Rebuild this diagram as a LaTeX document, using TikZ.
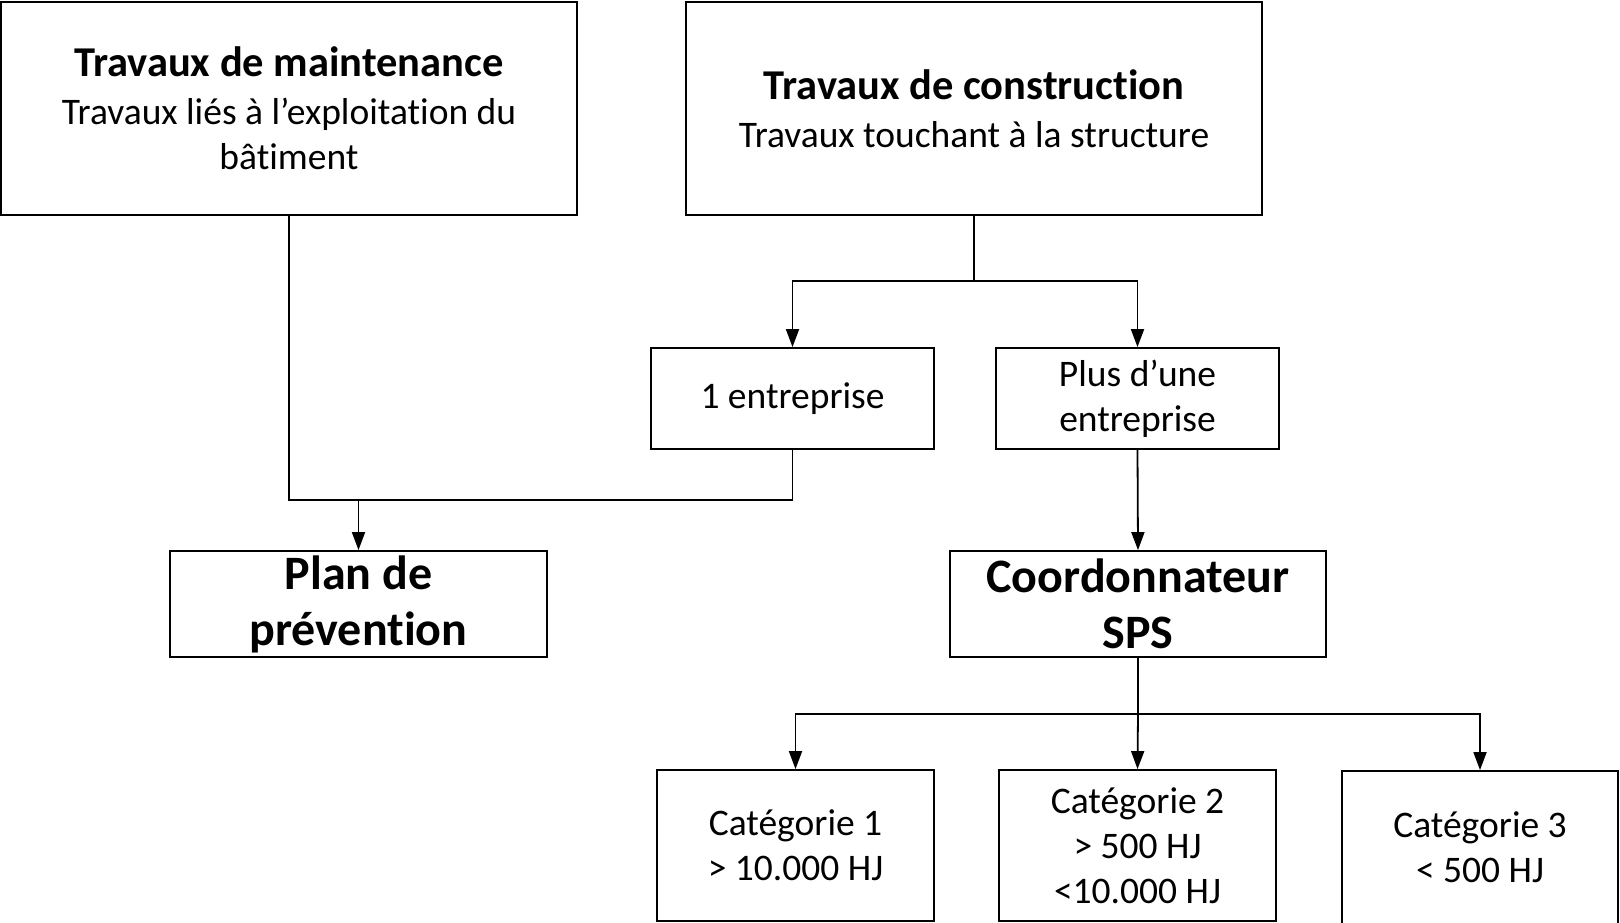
\documentclass[tikz,border=0pt]{standalone}
\usepackage{fontspec}
\setmainfont[Ligatures=NoCommon]{Carlito}
\usetikzlibrary{arrows.meta}
\newcommand{\boxtitle}[1]{{\fontsize{42.5}{46}\selectfont\bfseries #1}}
\begin{document}
\begin{tikzpicture}[x=1pt,y=-1pt,
  box/.style={draw=black, line width=1.8pt, fill=white, rectangle, inner sep=0pt,
    align=center, font=\fontsize{37.5}{45}\selectfont},
  bigbox/.style={box, font=\fontsize{48}{56}\selectfont\bfseries},
  link/.style={draw=black, line width=1.8pt},
  arrow/.style={link, -{Triangle[length=18pt,width=13pt]}}]
\useasboundingbox (0,0) rectangle (1620,923);

% top level
\node[box, minimum width=576pt, minimum height=213pt] (A) at (289,108.5)
  {\boxtitle{Travaux de maintenance}\\[3pt]Travaux liés à l’exploitation du\\bâtiment};
\node[box, minimum width=576pt, minimum height=213pt] (B) at (974,108.5)
  {\boxtitle{Travaux de construction}\\[3pt]Travaux touchant à la structure};

% number of companies
\node[box, minimum width=283pt, minimum height=101pt] (C) at (792.5,398.5) {1 entreprise};
\node[box, minimum width=283pt, minimum height=101pt] (D) at (1137.5,398.5) {Plus d’une\\entreprise};

% outcomes
\node[bigbox, minimum width=377pt, minimum height=106pt] (E) at (358.5,604) {Plan de\\prévention};
\node[bigbox, minimum width=376pt, minimum height=106pt] (F) at (1138,604) {Coordonnateur\\SPS};

% categories
\node[box, minimum width=277pt, minimum height=151pt] (G) at (795.5,845.5) {Catégorie 1\\> 10.000 HJ};
\node[box, minimum width=277pt, minimum height=151pt] (H) at (1137.5,845.5) {Catégorie 2\\> 500 HJ\\<10.000 HJ};
\node[box, minimum width=276pt, minimum height=153pt] (I) at (1480,847.5) {Catégorie 3\\< 500 HJ};

% junction levels
\coordinate (splitB) at (0,281);
\coordinate (merge) at (0,500);
\coordinate (splitF) at (0,714);

% construction split
\draw[link] (B.south) -- (B.south |- splitB);
\draw[arrow] (B.south |- splitB) -| (C.north);
\draw[arrow] (B.south |- splitB) -| (D.north);

% merge towards the prevention plan
\draw[link] (A.south) -- (A.south |- merge) -- (C.south |- merge) -- (C.south);
\draw[arrow] (E.north |- merge) -- (E.north);

\draw[arrow] (D.south) -- (F.north);

% coordinator split
\draw[link] (F.south) -- (F.south |- splitF);
\draw[arrow] (F.south |- splitF) -| (G.north);
\draw[arrow] (F.south |- splitF) -- (H.north);
\draw[arrow] (F.south |- splitF) -| (I.north);
\end{tikzpicture}
\end{document}
